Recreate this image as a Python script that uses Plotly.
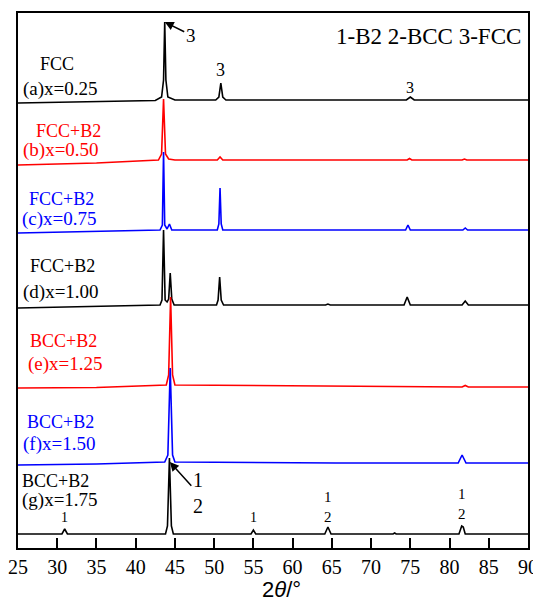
import plotly.graph_objects as go

# ---- data (2theta in degrees, intensity in arbitrary units above each baseline) ----
a_x = [25, 35, 42.5, 43.3, 43.55, 43.7, 43.85, 44.1, 45, 50.2, 50.6, 50.85, 51.1, 51.5, 74.5, 75.0, 75.5, 90]
a_y = [-3, -2, -0.5, 3, 20, 78, 20, 3, 0, 0, 3, 17, 3, 0, 0, 3, 0, 0]

b_x = [25, 35, 42.9, 43.3, 43.55, 43.8, 44.2, 45, 50.4, 50.75, 51.1, 74.6, 74.9, 75.2, 81.6, 81.9, 82.2, 90]
b_y = [-5, -3, 0, 6, 61, 6, 1, 0, 0, 3, 0, 0, 1.5, 0, 0, 1, 0, 0]

c_x = [25, 35, 43.1, 43.4, 43.55, 43.7, 44.0, 44.3, 44.6, 50.4, 50.6, 50.75, 50.9, 51.1,
       74.4, 74.7, 75.0, 81.7, 82.0, 82.3, 90]
c_y = [-3, -1.5, 0, 5, 78, 5, 1, 6, 0, 0, 6, 42, 6, 0, 0, 5, 0, 0, 2, 0, 0]

d_x = [25, 35, 43.1, 43.35, 43.55, 43.75, 44.0, 44.2, 44.4, 44.6, 44.9, 50.3, 50.5, 50.7, 50.9, 51.2,
       64.2, 64.5, 64.8, 74.2, 74.6, 75.0, 81.6, 82.0, 82.4, 90]
d_y = [-3, -1.5, 0, 5, 75, 5, 3, 6, 32, 6, 0, 0, 5, 28, 5, 0, 0, 1, 0, 0, 8, 0, 0, 4, 0, 0]

e_x = [25, 35, 43.9, 44.2, 44.45, 44.7, 45.0, 81.6, 82.0, 82.4, 90]
e_y = [-1, -0.5, 2, 12, 90, 12, 2, 0, 1.5, 0, 0]

f_x = [25, 35, 43.7, 44.1, 44.4, 44.7, 45.0, 64.5, 65.0, 65.5, 81.1, 81.6, 82.1, 90]
f_y = [-2, -1, 1, 8, 95, 8, 1, 0, 0.5, 0, 0, 8, 0, 0]

g_x = [25, 30.6, 30.95, 31.3, 43.8, 44.05, 44.3, 44.55, 44.8, 54.7, 55.0, 55.3, 64.1, 64.5, 64.9,
       72.8, 73.0, 73.2, 81.2, 81.55, 81.75, 82.0, 90]
g_y = [0, 0, 5, 0, 0, 8, 76, 8, 0, 0, 4, 0, 0, 7, 0, 0, 1, 0, 0, 8, 7, 0, 0]

offsets = [448, 388, 318, 243, 161, 85, 14]
colors = ["#000000", "#ff0000", "#0000ff", "#000000", "#ff0000", "#0000ff", "#000000"]
phases = ["FCC", "FCC+B2", "FCC+B2", "FCC+B2", "BCC+B2", "BCC+B2", "BCC+B2"]
samples = ["(a)x=0.25", "(b)x=0.50", "(c)x=0.75", "(d)x=1.00", "(e)x=1.25", "(f)x=1.50", "(g)x=1.75"]
x_ticks = [25, 30, 35, 40, 45, 50, 55, 60, 65, 70, 75, 80, 85, 90]

series = [(a_x, a_y), (b_x, b_y), (c_x, c_y), (d_x, d_y), (e_x, e_y), (f_x, f_y), (g_x, g_y)]

fig = go.Figure()
for (xs, ys), off, col in zip(series, offsets, colors):
    fig.add_trace(go.Scatter(x=xs, y=[v + off for v in ys], mode="lines",
                             line=dict(color=col, width=1.6), showlegend=False, hoverinfo="skip"))

serif = "Liberation Serif, Times New Roman, serif"
ann = []
# phase / sample labels (x in degrees, y in plot units)
phase_pos = [(27.6, 484), (27.1, 417), (26.1, 349), (26.3, 282), (26.3, 207), (25.9, 126), (25.3, 67)]
sample_pos = [(25.4, 459), (25.4, 398), (25.3, 329), (25.4, 256), (26.0, 184), (25.4, 104), (25.2, 48)]
for i in range(7):
    ann.append(dict(x=phase_pos[i][0], y=phase_pos[i][1], text=phases[i], showarrow=False,
                    xanchor="left", yanchor="middle", font=dict(family=serif, size=18, color=colors[i])))
    ann.append(dict(x=sample_pos[i][0], y=sample_pos[i][1], text=samples[i], showarrow=False,
                    xanchor="left", yanchor="middle", font=dict(family=serif, size=19, color=colors[i])))

# peak index labels
ann += [
    dict(x=50.85, y=478, text="3", showarrow=False, font=dict(family=serif, size=18, color="black")),
    dict(x=75.0, y=461, text="3", showarrow=False, font=dict(family=serif, size=16, color="black")),
    dict(x=30.95, y=31, text="1", showarrow=False, font=dict(family=serif, size=14, color="black")),
    dict(x=55.0, y=31, text="1", showarrow=False, font=dict(family=serif, size=14, color="black")),
    dict(x=64.5, y=41, text="1<br>2", showarrow=False, font=dict(family=serif, size=15, color="black")),
    dict(x=81.6, y=44, text="1<br>2", showarrow=False, font=dict(family=serif, size=15, color="black")),
    dict(x=43.7, y=526, text="3", showarrow=True, ax=26, ay=13, arrowhead=2, arrowsize=1.2,
         arrowwidth=1.5, arrowcolor="black", font=dict(family=serif, size=19, color="black")),
    dict(x=44.35, y=86, text="1<br>2", showarrow=True, ax=28, ay=31, arrowhead=2, arrowsize=1.2,
         arrowwidth=1.5, arrowcolor="black", font=dict(family=serif, size=20, color="black")),
    dict(x=89.4, y=512, text="1-B2 2-BCC 3-FCC", showarrow=False, xanchor="right", yanchor="middle",
         font=dict(family=serif, size=23, color="black")),
    dict(xref="paper", yref="paper", x=0.516, y=-0.0785, text="2<i>θ</i>/°", showarrow=False,
         xanchor="center", yanchor="middle",
         font=dict(family="Liberation Sans, Arial, sans-serif", size=22, color="black")),
]

fig.update_layout(
    width=533, height=604,
    margin=dict(l=10, r=13, t=5, b=64, autoexpand=False),
    paper_bgcolor="white", plot_bgcolor="white",
    annotations=ann,
    xaxis=dict(range=[25, 90], tickvals=x_ticks, ticktext=[str(t) for t in x_ticks],
               ticks="inside", ticklen=10, tickwidth=1.5, tickcolor="black",
               showline=True, linecolor="black", linewidth=2, mirror=True,
               showgrid=False, zeroline=False, automargin=False,
               tickfont=dict(family=serif, size=20, color="black")),
    yaxis=dict(range=[0, 535], showticklabels=False, ticks="", showline=True, automargin=False,
               linecolor="black", linewidth=2, mirror=True, showgrid=False, zeroline=False),
)

fig.write_html("out.html")
